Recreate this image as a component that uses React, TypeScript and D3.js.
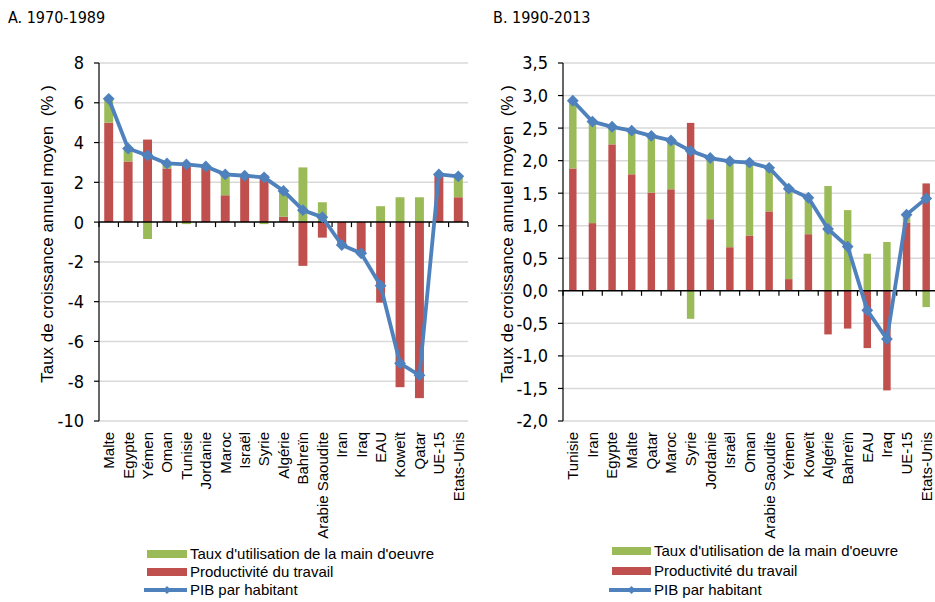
import React from "react";
import * as d3 from "d3";

// A. 1970-1989
const catsA = ["Malte", "Egypte", "Yémen", "Oman", "Tunisie", "Jordanie", "Maroc", "Israël", "Syrie", "Algérie", "Bahreïn", "Arabie Saoudite", "Iran", "Iraq", "EAU", "Koweït", "Qatar", "UE-15", "Etats-Unis"];
const prodA = [5.0, 3.05, 4.15, 2.7, 2.95, 2.75, 1.35, 2.3, 2.35, 0.27, -2.2, -0.78, -1.15, -1.55, -4.05, -8.3, -8.85, 2.4, 1.25];
const emploiA = [1.2, 0.7, -0.85, 0.2, -0.1, 0.05, 1.05, 0.05, -0.1, 1.3, 2.75, 1.0, 0, 0, 0.8, 1.25, 1.25, 0, 1.05];
const pibA = [6.2, 3.7, 3.35, 2.95, 2.9, 2.8, 2.4, 2.33, 2.25, 1.57, 0.6, 0.25, -1.15, -1.57, -3.2, -7.1, -7.7, 2.4, 2.3];
const ticksA = [8, 6, 4, 2, 0, -2, -4, -6, -8, -10];

// B. 1990-2013
const catsB = ["Tunisie", "Iran", "Egypte", "Malte", "Qatar", "Maroc", "Syrie", "Jordanie", "Israël", "Oman", "Arabie Saoudite", "Yémen", "Koweït", "Algérie", "Bahreïn", "EAU", "Iraq", "UE-15", "Etats-Unis"];
const prodB = [1.88, 1.04, 2.25, 1.79, 1.51, 1.56, 2.58, 1.1, 0.67, 0.85, 1.22, 0.18, 0.87, -0.67, -0.58, -0.88, -1.53, 1.05, 1.65];
const emploiB = [1.02, 1.55, 0.27, 0.66, 0.85, 0.73, -0.43, 0.94, 1.32, 1.12, 0.67, 1.4, 0.56, 1.61, 1.24, 0.57, 0.75, 0.12, -0.25];
const pibB = [2.92, 2.6, 2.52, 2.46, 2.38, 2.31, 2.15, 2.04, 1.99, 1.97, 1.89, 1.57, 1.43, 0.95, 0.68, -0.3, -0.74, 1.17, 1.42];
const ticksB = [3.5, 3, 2.5, 2, 1.5, 1, 0.5, 0, -0.5, -1, -1.5, -2];

const legendLabels = ["Taux d'utilisation de la main d'oeuvre", "Productivité du travail", "PIB par habitant"];

const GREEN = "#9BBB59";
const RED = "#C0504D";
const BLUE = "#4F81BD";
const GRID = "#D9D9D9";
const SANS = "'Liberation Sans', Arial, sans-serif";
const NARROW = "'Liberation Sans Narrow', 'Arial Narrow', 'DejaVu Sans Condensed', sans-serif";

const TOP = 63;
const BOTTOM = 421;

const Panel = ({ title, titleX, cats, prod, emploi, pib, ticks, fmt, left, right, pad, yTitleX, legend }) => {
  const x = d3.scaleBand().domain(cats).range([left, right]).paddingInner(pad).paddingOuter(pad / 2);
  const y = d3.scaleLinear().domain([ticks[ticks.length - 1], ticks[0]]).range([BOTTOM, TOP]);

  const rows = cats.map((c, i) => ({ cat: c, prod: prod[i], emploi: emploi[i] }));
  const series = d3.stack().keys(["prod", "emploi"]).offset(d3.stackOffsetDiverging)(rows);
  const colors = { prod: RED, emploi: GREEN };

  const cx = (i) => x(cats[i]) + x.bandwidth() / 2;
  const line = d3.line().x((d, i) => cx(i)).y((d) => y(d));
  const diamond = d3.symbol(d3.symbolSquare, 70)();

  const step = x.step();
  const bounds = d3.range(cats.length + 1).map((i) => left + i * step);

  return (
    <g>
      <text x={titleX} y={23} fontFamily={NARROW} fontSize={16} fill="#000">{title}</text>

      {/* grid */}
      {ticks.filter((t) => t !== 0).map((t) => (
        <line key={t} x1={left} x2={right} y1={y(t)} y2={y(t)} stroke={GRID} strokeWidth={1.5} />
      ))}

      {/* bars */}
      {series.map((s) =>
        s.map((d, i) => (
          <rect
            key={s.key + i}
            x={x(cats[i])}
            width={x.bandwidth()}
            y={y(Math.max(d[0], d[1]))}
            height={Math.abs(y(d[0]) - y(d[1]))}
            fill={colors[s.key]}
          />
        ))
      )}

      {/* y axis */}
      <line x1={left} x2={left} y1={TOP} y2={BOTTOM} stroke="#000" strokeWidth={1.2} />
      {ticks.map((t) => (
        <g key={t}>
          <line x1={left - 5} x2={left} y1={y(t)} y2={y(t)} stroke="#000" strokeWidth={1.2} />
          <text x={left - 15} y={y(t)} dy="0.36em" textAnchor="end" fontFamily={NARROW} fontSize={18} fill="#000">
            {fmt(t)}
          </text>
        </g>
      ))}

      {/* zero line */}
      <line x1={left} x2={right} y1={y(0)} y2={y(0)} stroke="#000" strokeWidth={1.5} />
      {bounds.map((b, i) => (
        <line key={i} x1={b} x2={b} y1={y(0)} y2={y(0) + 5} stroke="#000" strokeWidth={1.2} />
      ))}

      {/* PIB line */}
      <path d={line(pib)} fill="none" stroke={BLUE} strokeWidth={3.8} strokeLinejoin="round" />
      {pib.map((v, i) => (
        <path key={i} d={diamond} transform={`translate(${cx(i)},${y(v)}) rotate(45)`} fill={BLUE} />
      ))}

      {/* category labels */}
      {cats.map((c, i) => (
        <text
          key={c}
          transform={`translate(${cx(i)},${BOTTOM + 11}) rotate(-90)`}
          dy="0.36em"
          textAnchor="end"
          fontFamily={SANS}
          fontSize={15}
          fill="#000"
        >
          {c}
        </text>
      ))}

      {/* axis title */}
      <text
        transform={`translate(${yTitleX},234) rotate(-90)`}
        textAnchor="middle"
        dy="0.36em"
        fontFamily={SANS}
        fontSize={17}
        fill="#000"
        style={{ whiteSpace: "pre" }}
      >
        {"Taux de croissance annuel moyen  (% )"}
      </text>

      {/* legend */}
      <g fontFamily={SANS} fontSize={15} fill="#000">
        <rect x={legend.x} y={legend.rows[0] - 4} width={legend.w} height={8} fill={GREEN} />
        <rect x={legend.x} y={legend.rows[1] - 4} width={legend.w} height={8} fill={RED} />
        <line x1={legend.x - 3} x2={legend.x + legend.w} y1={legend.rows[2]} y2={legend.rows[2]} stroke={BLUE} strokeWidth={3.8} />
        <path d={d3.symbol(d3.symbolSquare, 34)()} transform={`translate(${legend.x + legend.w / 2},${legend.rows[2]}) rotate(45)`} fill={BLUE} />
        {legendLabels.map((l, i) => (
          <text key={l} x={legend.x + legend.w + 3} y={legend.rows[i]} dy="0.36em">{l}</text>
        ))}
      </g>
    </g>
  );
};

const fmtA = (v) => d3.format("d")(v).replace("−", "-");
const fmtB = (v) => d3.format(".1f")(v).replace("−", "-").replace(".", ",");

export default function App() {
  return (
    <svg width={935} height={602} style={{ position: "absolute", left: 0, top: 0, background: "#fff" }}>
      <rect width={935} height={602} fill="#fff" />
      <Panel
        title="A. 1970-1989"
        titleX={8}
        cats={catsA}
        prod={prodA}
        emploi={emploiA}
        pib={pibA}
        ticks={ticksA}
        fmt={fmtA}
        left={99}
        right={468}
        pad={0.54}
        yTitleX={47}
        legend={{ x: 147, w: 40, rows: [554, 572, 590] }}
      />
      <Panel
        title="B. 1990-2013"
        titleX={493}
        cats={catsB}
        prod={prodB}
        emploi={emploiB}
        pib={pibB}
        ticks={ticksB}
        fmt={fmtB}
        left={563}
        right={936}
        pad={0.62}
        yTitleX={507}
        legend={{ x: 612, w: 39, rows: [551, 571, 590] }}
      />
    </svg>
  );
}
